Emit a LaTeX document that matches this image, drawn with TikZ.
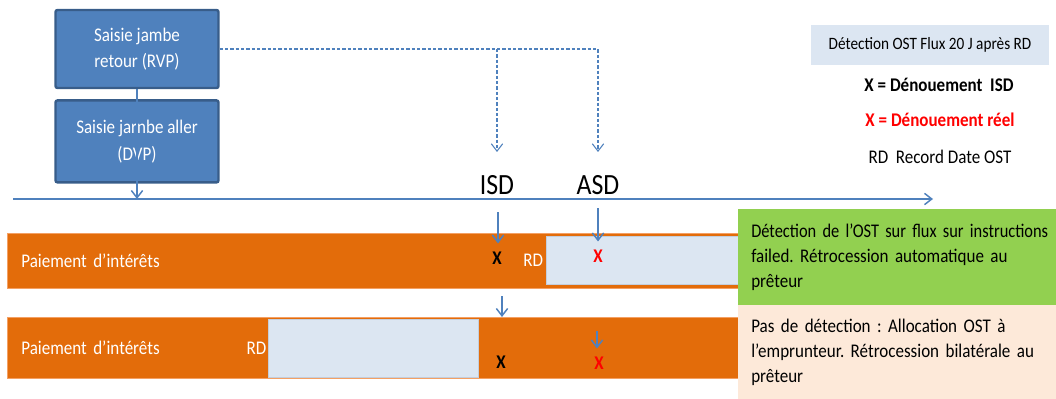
\documentclass[tikz,border=0pt]{standalone}
\usepackage{fontspec}
\setmainfont{Carlito}[FakeStretch=0.88]
\usetikzlibrary{positioning,arrows.meta}
\frenchspacing

\definecolor{boxblue}{RGB}{79,129,189}
\definecolor{boxborder}{RGB}{56,93,138}
\definecolor{barorange}{RGB}{227,108,10}
\definecolor{barline}{RGB}{244,160,100}
\definecolor{paleblue}{RGB}{220,230,242}
\definecolor{paleline}{RGB}{196,206,220}
\definecolor{okgreen}{RGB}{146,208,80}
\definecolor{peach}{RGB}{253,233,217}

\begin{document}
\begin{tikzpicture}[x=0.75pt,y=-0.75pt,>={Straight Barb[length=5.5pt,width=8.5pt]},node distance=7.5pt,font=\fontsize{14.5}{20}\selectfont]
\tikzstyle{saisie}=[draw=boxborder,fill=boxblue,line width=1.8pt,rounded corners=1.5pt,text=white,align=center,minimum width=122.25pt,minimum height=58.5pt]
\tikzstyle{axe}=[draw=boxblue,line width=1.1pt]
\tikzstyle{pointille}=[->,draw=boxblue,line width=0.8pt,dash pattern=on 2.5pt off 1.5pt]
\tikzstyle{bande}=[fill=barorange,draw=barline,line width=0.6pt,anchor=north west,minimum width=548.25pt,inner xsep=10.5pt,text width=527.25pt,align=left,text=white]
\tikzstyle{pale}=[fill=paleblue,draw=paleline,line width=0.5pt,anchor=north west]
\tikzstyle{marque}=[font=\fontsize{14.5}{20}\selectfont\bfseries,inner xsep=1pt,inner ysep=6pt]
\tikzstyle{cadre}=[minimum width=238.5pt,inner xsep=9.75pt,text width=240pt,align=left,anchor=north west,font=\fontsize{14.5}{18.75}\selectfont]
\useasboundingbox (0,0) rectangle (1056,399);

% saisies
\node[saisie] (rvp) at (137,49) {Saisie jambe\\retour (RVP)};
\node[saisie,minimum height=61.5pt,below=of rvp] (dvp) {Saisie jarnbe aller\\(DVP)};

% axe du temps
\coordinate (t0) at (13,199);
\coordinate (t1) at (933,199);
\draw[->,axe] (t0) -- (t1);
\draw[->,axe] (rvp.south) -- (rvp.south |- t0);

\node (isd) at (497,185) {\fontsize{22}{26}\selectfont ISD};
\node (asd) at (598,185) {\fontsize{22}{26}\selectfont ASD};
\coordinate (isdtop) at (497,152);
\coordinate (asdtop) at (598,152);
\draw[pointille] (rvp.east) -| (asdtop);
\draw[pointille] (rvp.east -| isdtop) -- (isdtop);

% bandes
\node[bande,minimum height=41.25pt] (bar1) at (7,233) {Paiement d’intérêts};
\node[bande,minimum height=45.75pt] (bar2) at (7,317) {Paiement d’intérêts};
\node[pale,minimum width=144pt,minimum height=36pt] (pale1) at (546,236) {};
\node[pale,minimum width=157.5pt,minimum height=43.5pt] (pale2) at (268,319) {};
\node[text=white,inner sep=1pt,left=1pt of pale1] (rd1) {RD};
\node[text=white,inner sep=1pt,left=0pt of pale2] (rd2) {RD};

% commentaires
\node[cadre,fill=okgreen,minimum height=72pt] (vert) at (738,209)
  {\scalebox{0.965}[1]{Détection de l’OST sur flux sur instructions}\\failed. Rétrocession automatique au\\prêteur};
\node[cadre,fill=peach,minimum height=70.5pt] (peche) at (738,305)
  {Pas de détection : Allocation OST à\\l’emprunteur. Rétrocession bilatérale au\\prêteur};

% dénouements
\node[marque] (x1) at (497,258) {X};
\node[marque,text=red] (xr1) at (598,256) {X};
\node[marque] (x2) at (501,362) {X};
\node[marque,text=red] (xr2) at (599,363) {X};
\coordinate (a1) at (498,212);
\coordinate (a2) at (598,208);
\coordinate (a3) at (502,296);
\coordinate (a4) at (597,331);
\draw[->,axe] (a1) -- (a1 |- x1.north);
\draw[->,axe] (a2) -- (a2 |- xr1.north);
\draw[->,axe] (a3) -- (a3 |- bar2.north);
\draw[->,axe] (a4) -- (a4 |- xr2.north);

% legende
\node[fill=paleblue,minimum width=178.5pt,minimum height=30pt] (titre) at (930,45)
  {\fontsize{13}{15}\selectfont Détection OST Flux 20 J après RD};
\node[font=\fontsize{14.5}{20}\selectfont\bfseries] (leg1) at (939,85) {X = Dénouement\ \ ISD};
\node[font=\fontsize{14.5}{20}\selectfont\bfseries,text=red] (leg2) at (940,120) {X = Dénouement réel};
\node (leg3) at (940,157) {RD\ \ Record Date OST};
\end{tikzpicture}
\end{document}
